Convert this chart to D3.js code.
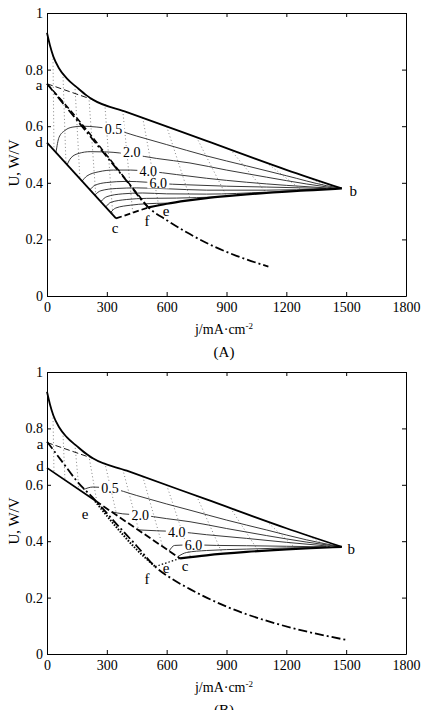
<!DOCTYPE html>
<html>
  <head>
    <meta charset="utf-8">
    <script type="text/javascript" src="https://cdn.jsdelivr.net/npm/d3@7"></script>
    <style>
      body { margin: 0; background: #fff; }
      text { font-family: "Liberation Serif", "Times New Roman", serif; fill: #000; }
      .axis text { font-size: 14px; }
      .axis path, .axis line { stroke: #000; stroke-width: 1; }
    </style>
  </head>
  <body>
    <script type="text/javascript">
      WIDTH = 424
      HEIGHT = 710

      // axis ticks
      var jTicks = [0, 300, 600, 900, 1200, 1500, 1800]
      var uTicks = [0, 0.2, 0.4, 0.6, 0.8, 1]
      var uTickLabels = ["0", "0.2", "0.4", "0.6", "0.8", "1"]

      // polarisation curve on top, same in both panels
      var topCurve = [[0, 0.93], [15, 0.885], [32, 0.846], [60, 0.805], [99, 0.769], [150, 0.737],
                      [200, 0.708], [232, 0.693], [400, 0.65], [800, 0.548], [1200, 0.446], [1478, 0.38]]
      var kneeDash = [[0, 0.75], [232, 0.693]]

      // panel A
      var aPolar = [[0, 0.75], [100, 0.664], [182, 0.594], [300, 0.492], [400, 0.406], [508, 0.313],
                    [600, 0.268], [700, 0.225], [828, 0.178], [950, 0.142], [1110, 0.104]]
      var aDashed = [[0, 0.75], [100, 0.67], [200, 0.586], [300, 0.497], [400, 0.408], [508, 0.313]]
      var aLineDC = [[0, 0.542], [346, 0.274]]
      var aLineCF = [[346, 0.274], [508, 0.313]]
      var aLineFB = [[508, 0.313], [600, 0.326], [700, 0.337], [800, 0.346], [900, 0.353], [1000, 0.359],
                     [1100, 0.364], [1200, 0.369], [1300, 0.373], [1400, 0.377], [1478, 0.38]]
      var aContourLabels = ["0.5", "2.0", "4.0", "6.0", "", "", "", ""]
      var aContourLabelAt = [[333, 0.589], [425, 0.508], [508, 0.442], [558, 0.398], null, null, null, null]
      var aContours = [
        [[45, 0.507], [60, 0.56], [90, 0.585], [130, 0.597], [180, 0.6], [250, 0.597], [333, 0.589],
         [450, 0.565], [600, 0.535], [800, 0.495], [1000, 0.46], [1200, 0.425], [1400, 0.39], [1470, 0.381]],
        [[100, 0.463], [120, 0.488], [160, 0.504], [216, 0.51], [300, 0.509], [425, 0.5], [550, 0.486],
         [717, 0.47], [900, 0.445], [1100, 0.42], [1300, 0.396], [1445, 0.381]],
        [[175, 0.405], [200, 0.424], [260, 0.439], [333, 0.445], [420, 0.445], [508, 0.441], [650, 0.429],
         [800, 0.416], [1000, 0.402], [1200, 0.391], [1420, 0.381]],
        [[215, 0.375], [240, 0.391], [300, 0.401], [400, 0.405], [500, 0.402], [558, 0.398], [700, 0.393],
         [900, 0.388], [1100, 0.385], [1400, 0.38]],
        [[240, 0.357], [270, 0.372], [350, 0.38], [450, 0.382], [600, 0.379], [800, 0.374], [1100, 0.374], [1400, 0.379]],
        [[270, 0.334], [300, 0.351], [380, 0.361], [480, 0.364], [600, 0.361], [800, 0.36], [1100, 0.367], [1380, 0.378]],
        [[295, 0.315], [320, 0.331], [400, 0.341], [500, 0.345], [650, 0.346], [850, 0.35]],
        [[320, 0.296], [345, 0.311], [420, 0.321], [500, 0.326], [600, 0.328]]
      ]
      var aDotTop = [30, 80, 140, 210, 290, 380, 480, 600, 750, 920, 1100, 1300]
      var aDotBottom = [35, 95, 165, 245, 330, 430, 560, 720, 900, 1100, 1280, 1430]
      var aPointNames = ["a", "d", "c", "f", "e", "b"]
      var aPointAt = [[-40, 0.728], [-40, 0.527], [341, 0.223], [502, 0.247], [597, 0.283], [1535, 0.353]]

      // panel B
      var bPolar = [[0, 0.753], [74, 0.684], [150, 0.613], [241, 0.546], [350, 0.46], [450, 0.383], [542, 0.31],
                    [630, 0.265], [717, 0.23], [800, 0.2], [900, 0.168], [1100, 0.118], [1300, 0.08], [1500, 0.05]]
      var bDottedEF = [[241, 0.542], [350, 0.448], [450, 0.37], [542, 0.31]]
      var bLineDE = [[0, 0.66], [241, 0.544]]
      var bLineEC = [[241, 0.544], [667, 0.339]]
      var bLineFC = [[542, 0.31], [667, 0.339]]
      var bLineCB = [[667, 0.339], [800, 0.35], [1000, 0.362], [1200, 0.371], [1350, 0.376], [1478, 0.38]]
      var bContourLabels = ["0.5", "2.0", "4.0", "6.0", ""]
      var bContourLabelAt = [[316, 0.588], [467, 0.493], [651, 0.434], [734, 0.387], null]
      var bContours = [
        [[182, 0.583], [230, 0.592], [316, 0.588], [450, 0.562], [600, 0.532], [717, 0.51], [900, 0.475],
         [1100, 0.44], [1300, 0.405], [1460, 0.382]],
        [[325, 0.504], [380, 0.497], [467, 0.493], [600, 0.48], [717, 0.469], [900, 0.445], [1100, 0.42],
         [1300, 0.397], [1450, 0.382]],
        [[458, 0.44], [550, 0.437], [651, 0.434], [800, 0.423], [1000, 0.41], [1200, 0.396], [1420, 0.382]],
        [[612, 0.365], [640, 0.385], [734, 0.387], [850, 0.385], [1000, 0.384], [1200, 0.382], [1400, 0.38]],
        [[655, 0.345], [700, 0.36], [800, 0.367], [1000, 0.372], [1200, 0.376], [1400, 0.379]]
      ]
      var bDotTop = [30, 80, 140, 210, 290, 380, 480, 600, 750, 920, 1100, 1300]
      var bDotBottom = [35, 90, 160, 250, 350, 460, 580, 720, 880, 1060, 1250, 1420]
      var bPointNames = ["a", "d", "e", "f", "e", "c", "b"]
      var bPointAt = [[-35, 0.727], [-35, 0.649], [191, 0.479], [502, 0.248], [597, 0.287], [692, 0.294], [1525, 0.355]]

      var svg = d3.select("body")
            .append("svg")
            .attr("width", WIDTH)
            .attr("height", HEIGHT)

      var xscale = d3.scaleLinear().domain([0, 1800]).range([47, 406])

      // linear interpolation along a polyline
      function interp(pts, x)
      {
        for (var i = 0; i < pts.length - 1; i++)
        {
          if (x >= pts[i][0] && x <= pts[i + 1][0])
          {
            var t = (x - pts[i][0]) / (pts[i + 1][0] - pts[i][0])
            return pts[i][1] + t * (pts[i + 1][1] - pts[i][1])
          }
        }
        return pts[pts.length - 1][1]
      }

      function panel(cfg)
      {
        var yscale = d3.scaleLinear().domain([0, 1]).range([cfg.bottom, cfg.top])
        var g = svg.append("g")
        var line = d3.line().x(function(d) { return xscale(d[0]) }).y(function(d) { return yscale(d[1]) })
        var smooth = d3.line().curve(d3.curveMonotoneX)
          .x(function(d) { return xscale(d[0]) }).y(function(d) { return yscale(d[1]) })

        function path(pts, gen, width, dash, colour)
        {
          g.append("path").attr("d", gen(pts))
            .attr("fill", "none")
            .attr("stroke", colour || "#000")
            .attr("stroke-width", width)
            .attr("stroke-dasharray", dash || null)
        }

        // dotted iso lines from the top curve down to the lower boundary
        cfg.dotTop.forEach(function(xt, i) {
          var xb = cfg.dotBottom[i]
          path([[xt, interp(topCurve, xt)], [xb, interp(cfg.lower, xb)]], line, 0.8, "1,2.5", "#666")
        })

        // contour lines
        cfg.contours.forEach(function(pts) { path(pts, smooth, 0.9, null, "#222") })

        // contour labels with white background
        cfg.contourLabels.forEach(function(lab, i) {
          if (!lab) return
          var p = cfg.contourLabelAt[i]
          g.append("rect")
            .attr("x", xscale(p[0]) - 11).attr("y", yscale(p[1]) - 6)
            .attr("width", 22).attr("height", 11).attr("fill", "#fff")
          g.append("text")
            .attr("x", xscale(p[0])).attr("y", yscale(p[1]))
            .attr("dy", "0.35em").attr("text-anchor", "middle")
            .style("font-size", "14px")
            .text(lab)
        })

        // main curves
        path(topCurve, smooth, 1.8)
        path(kneeDash, line, 0.9, "6,3")
        cfg.draw(path, line, smooth)

        // point letters
        cfg.pointNames.forEach(function(n, i) {
          g.append("text")
            .attr("x", xscale(cfg.pointAt[i][0])).attr("y", yscale(cfg.pointAt[i][1]))
            .attr("text-anchor", "middle")
            .style("font-size", "15px")
            .text(n)
        })

        // axes with inward ticks on all four sides
        g.append("g").attr("class", "axis").attr("transform", "translate(0," + cfg.bottom + ")")
          .call(d3.axisBottom(xscale).tickValues(jTicks).tickSize(-4).tickSizeOuter(0).tickPadding(6)
                .tickFormat(d3.format("d")))
        g.append("g").attr("class", "axis").attr("transform", "translate(0," + cfg.top + ")")
          .call(d3.axisTop(xscale).tickValues(jTicks).tickSize(-4).tickSizeOuter(0).tickFormat(""))
        g.append("g").attr("class", "axis").attr("transform", "translate(47,0)")
          .call(d3.axisLeft(yscale).tickValues(uTicks).tickSize(-4).tickSizeOuter(0).tickPadding(4)
                .tickFormat(function(d, i) { return uTickLabels[i] }))
        g.append("g").attr("class", "axis").attr("transform", "translate(406,0)")
          .call(d3.axisRight(yscale).tickValues(uTicks).tickSize(-4).tickSizeOuter(0).tickFormat(""))

        // axis titles
        g.append("text")
          .attr("transform", "translate(19," + cfg.ylabelY + ") rotate(-90)")
          .attr("text-anchor", "middle")
          .style("font-size", "15px")
          .text("U, W/V")
        var xt = g.append("text")
          .attr("x", 224).attr("y", cfg.bottom + 38)
          .attr("text-anchor", "middle")
          .style("font-size", "14px")
        xt.append("tspan").text("j/mA\u00b7cm")
        xt.append("tspan").attr("dy", "-5").style("font-size", "9px").text("-2")
        g.append("text")
          .attr("x", 224).attr("y", cfg.bottom + 61)
          .attr("text-anchor", "middle")
          .style("font-size", "15px")
          .text(cfg.name)
      }

      panel({
        name: "(A)", top: 13, bottom: 296, ylabelY: 163,
        lower: aLineDC.concat(aLineCF.slice(1), aLineFB.slice(1)),
        contours: aContours, contourLabels: aContourLabels, contourLabelAt: aContourLabelAt,
        dotTop: aDotTop, dotBottom: aDotBottom,
        pointNames: aPointNames, pointAt: aPointAt,
        draw: function(path, line, smooth) {
          path(aDashed, smooth, 1.5, "6,3")
          path(aPolar, smooth, 1.8, "9,3,2,3")
          path(aLineDC, line, 1.8)
          path(aLineCF, line, 1.8, "6,3")
          path(aLineFB, smooth, 2.2)
        }
      })

      panel({
        name: "(B)", top: 372, bottom: 654, ylabelY: 521,
        lower: bLineDE.concat(bLineEC.slice(1), bLineCB.slice(1)),
        contours: bContours, contourLabels: bContourLabels, contourLabelAt: bContourLabelAt,
        dotTop: bDotTop, dotBottom: bDotBottom,
        pointNames: bPointNames, pointAt: bPointAt,
        draw: function(path, line, smooth) {
          path(bPolar, smooth, 1.8, "9,3,2,3")
          path(bDottedEF, smooth, 2, "1.5,1.5")
          path(bLineDE, line, 1.8)
          path(bLineEC, line, 1.8, "7,3")
          path(bLineFC, line, 1.2, "1.5,2")
          path(bLineCB, smooth, 2.2)
        }
      })
    </script>
  </body>
</html>
